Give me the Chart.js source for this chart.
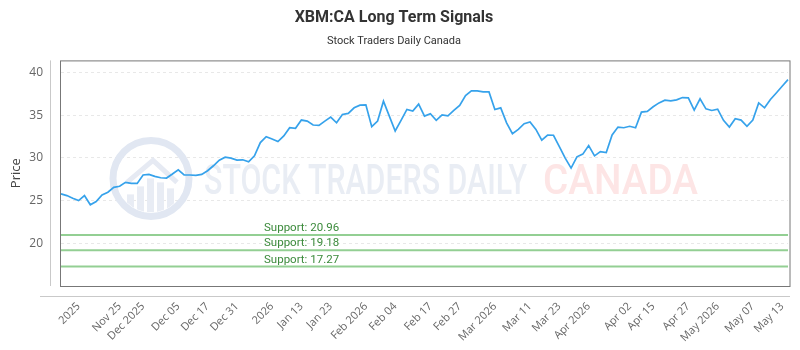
<!DOCTYPE html>
<html><head><meta charset="utf-8">
<script src="https://cdn.jsdelivr.net/npm/chart.js@4/dist/chart.umd.min.js"></script>
<style>html,body{margin:0;padding:0;background:#fff}</style>
</head><body>
<canvas id="c" width="800" height="350"></canvas>
<script>
const chartTitle = "XBM:CA Long Term Signals";
const chartSubtitle = "Stock Traders Daily Canada";
const yAxisTitle = "Price";

const prices = [
  25.78, 25.58, 25.27, 25.0, 25.58, 24.5, 24.88, 25.66, 25.97, 26.55, 26.67, 27.13, 27.01, 27.01, 27.99, 28.06,
  27.83, 27.67, 27.63, 28.1, 28.6, 27.99, 27.99, 27.94, 28.06, 28.49, 29.07, 29.73, 30.08, 29.97, 29.73, 29.77,
  29.53, 30.23, 31.78, 32.48, 32.21, 31.9, 32.56, 33.53, 33.45, 34.42, 34.3, 33.84, 33.8, 34.3, 34.77, 34.1,
  35.08, 35.2, 35.85, 36.16, 36.2, 33.64, 34.3, 36.63, 34.88, 33.14, 34.38, 35.66, 35.47, 36.28, 34.88,
  35.15, 34.38, 35.03, 34.92, 35.54, 36.13, 37.29, 37.83, 37.83, 37.71, 37.71, 35.66, 35.85, 34.1, 32.83, 33.33,
  33.99, 34.19, 33.33, 32.06, 32.67, 32.64, 31.31, 29.97, 28.8, 30.12, 30.43, 31.43, 30.23, 30.73, 30.62,
  32.67, 33.6, 33.52, 33.69, 33.52, 35.35, 35.43, 35.97, 36.43, 36.74, 36.66, 36.78, 37.05, 37.01, 35.58, 36.9,
  35.73, 35.54, 35.7, 34.38, 33.6, 34.57, 34.42, 33.69, 34.42, 36.43, 35.85, 36.82, 37.59, 38.37, 39.15
];

const tickLabels = ["2025", "Nov 25", "Dec 2025", "Dec 05", "Dec 17", "Dec 31", "2026", "Jan 13", "Jan 23",
  "Feb 2026", "Feb 04", "Feb 17", "Feb 27", "Mar 2026", "Mar 11", "Mar 23", "Apr 2026", "Apr 02", "Apr 15",
  "Apr 27", "May 2026", "May 07", "May 13"];
const tickIndex = [3, 10, 14, 20, 25, 30, 36, 41, 46, 52, 57, 63, 68, 74, 80, 85, 90, 97, 101, 107, 112, 118, 123];

const yTicks = [20, 25, 30, 35, 40];
const yMin = 15;
const yMax = 41.4;

const supportLevels = [20.96, 19.18, 17.27];
const supportLabels = supportLevels.map(v => "Support: " + v.toFixed(2));

const categories = prices.map((_, i) => {
  const j = tickIndex.indexOf(i);
  return j >= 0 ? tickLabels[j] : "";
});

const decorPlugin = {
  id: "decor",
  beforeDatasetsDraw(chart) {
    const ctx = chart.ctx;
    const a = chart.chartArea;
    const ox = a.left, oy = a.top;
    ctx.save();
    ctx.strokeStyle = "#e1e7f2";
    ctx.lineWidth = 7;
    ctx.beginPath();
    ctx.arc(ox + 90, oy + 118, 38, 0, Math.PI * 2);
    ctx.stroke();
    ctx.save();
    ctx.beginPath();
    ctx.arc(ox + 90, oy + 118, 34, 0, Math.PI * 2);
    ctx.clip();
    ctx.fillStyle = "#e8ecf4";
    const bars = [[-24, 14], [-14, 22], [-4, 30], [6, 26], [16, 20]];
    bars.forEach(b => ctx.fillRect(ox + 90 + b[0], oy + 118 + 34 - b[1] - 4, 7, b[1] + 4));
    ctx.strokeStyle = "#e6eaf3";
    ctx.lineWidth = 5;
    ctx.beginPath();
    ctx.moveTo(ox + 66, oy + 122);
    ctx.lineTo(ox + 92, oy + 100);
    ctx.lineTo(ox + 116, oy + 122);
    ctx.stroke();
    ctx.restore();
    ctx.font = "500 42px Roboto";
    ctx.textBaseline = "alphabetic";
    ctx.textAlign = "left";
    const drawFit = (txt, x0, x1, y, color) => {
      const w = ctx.measureText(txt).width;
      ctx.save();
      ctx.fillStyle = color;
      ctx.translate(x0, y);
      ctx.scale((x1 - x0) / w, 1);
      ctx.fillText(txt, 0, 0);
      ctx.restore();
    };
    drawFit("STOCK TRADERS DAILY", ox + 143, ox + 466, oy + 134, "#e9edf4");
    drawFit("CANADA", ox + 482, ox + 637, oy + 134, "#fde5e5");
    ctx.restore();
  },
  afterDraw(chart) {
    const ctx = chart.ctx;
    const a = chart.chartArea;
    const yS = chart.scales.y;
    ctx.save();
    ctx.lineWidth = 1;
    ctx.strokeStyle = "#c9c9c9";
    ctx.beginPath();
    ctx.moveTo(a.left - 10.5, a.top);
    ctx.lineTo(a.left - 10.5, a.bottom);
    ctx.stroke();
    ctx.beginPath();
    ctx.moveTo(a.left - 21, a.bottom + 10.5);
    ctx.lineTo(a.right + 2, a.bottom + 10.5);
    ctx.stroke();
    ctx.strokeStyle = "#777";
    ctx.strokeRect(a.left - 0.5, a.top + 0.5, a.right - a.left + 2.5, a.bottom - a.top);
    ctx.fillStyle = "#3b8a3b";
    ctx.font = "11.5px Roboto";
    ctx.textAlign = "left";
    ctx.textBaseline = "alphabetic";
    supportLevels.forEach((v, i) => {
      const y = yS.getPixelForValue(v);
      ctx.fillText(supportLabels[i], a.left + 203, y - 4);
    });
    ctx.restore();
  }
};

new Chart(document.getElementById("c"), {
  type: "line",
  data: {
    labels: categories,
    datasets: [
      { label: "Price", data: prices, borderColor: "#36a2eb", borderWidth: 1.7, pointRadius: 0, tension: 0, order: 0 },
      ...supportLevels.map((v, i) => ({
        label: supportLabels[i], data: categories.map(() => v),
        borderColor: "#93cf93", borderWidth: 2, pointRadius: 0, order: 1
      }))
    ]
  },
  options: {
    responsive: false,
    animation: false,
    layout: { padding: { left: 0, right: 12, top: 4, bottom: 0 } },
    plugins: {
      legend: { display: false },
      tooltip: { enabled: false },
      title: { display: true, text: chartTitle, color: "#333", font: { family: "Roboto", size: 16, weight: "bold" }, padding: { top: 4, bottom: 7 } },
      subtitle: { display: true, text: chartSubtitle, color: "#333", font: { family: "Roboto", size: 11 }, padding: { top: 0, bottom: 13 } }
    },
    scales: {
      x: {
        type: "category",
        grid: { display: false },
        border: { display: false },
        ticks: { autoSkip: false, maxRotation: 45, minRotation: 45, color: "#666", font: { family: "Open Sans", size: 11 }, padding: 6 },
        afterFit(s) { s.height = 64; s.paddingLeft = 0; s.paddingRight = 0; }
      },
      y: {
        min: yMin, max: yMax,
        afterBuildTicks(s) { s.ticks = yTicks.map(v => ({ value: v })); },
        grid: { color: "#e8e8e8", drawTicks: false },
        border: { display: false, dash: [3, 3] },
        ticks: { color: "#666", font: { family: "Open Sans", size: 12 }, padding: 18 },
        title: { display: true, text: yAxisTitle, color: "#444", font: { family: "Open Sans", size: 13 }, padding: { top: 8, bottom: 0 } },
        afterFit(s) { s.width = 61; }
      }
    }
  },
  plugins: [decorPlugin]
});
</script>
</body></html>
